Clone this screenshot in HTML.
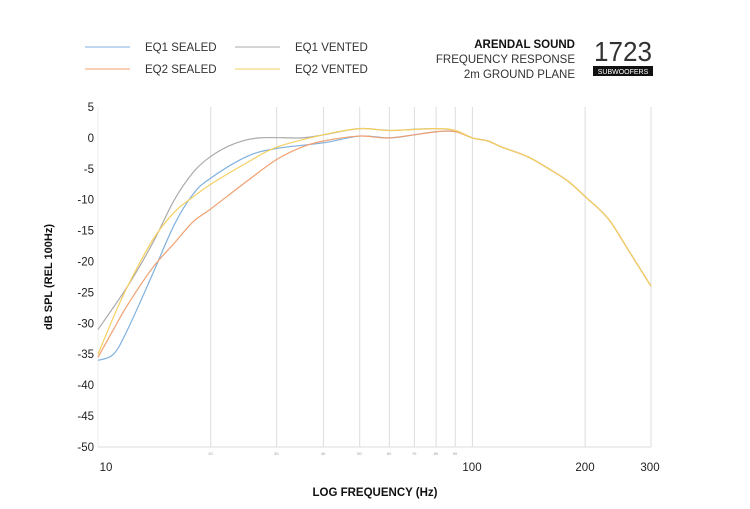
<!DOCTYPE html>
<html><head><meta charset="utf-8"><style>
body{margin:0;background:#fff;width:750px;height:504px;overflow:hidden;font-family:"Liberation Sans",sans-serif}
</style></head><body>
<svg id="s" width="750" height="504" xmlns="http://www.w3.org/2000/svg" font-family="Liberation Sans, sans-serif">
<line x1="85" y1="47" x2="130" y2="47" stroke="#7fb0dd"/>
<line x1="235" y1="47" x2="280" y2="47" stroke="#aaa"/>
<line x1="85" y1="69" x2="130" y2="69" stroke="#f0a070"/>
<line x1="235" y1="69" x2="280" y2="69" stroke="#f5d060"/>
<g font-size="11.5" fill="#333">
<text x="145" y="51">EQ1 SEALED</text><text x="295" y="51">EQ1 VENTED</text>
<text x="145" y="73">EQ2 SEALED</text><text x="295" y="73">EQ2 VENTED</text>
<text x="575" y="48" text-anchor="end" font-weight="bold" fill="#111">ARENDAL SOUND</text>
<text x="575" y="63" text-anchor="end">FREQUENCY RESPONSE</text>
<text x="575" y="78" text-anchor="end">2m GROUND PLANE</text>
</g>
<text x="594" y="61" font-size="28" fill="#333" textLength="58" lengthAdjust="spacingAndGlyphs">1723</text>
<rect x="593" y="66" width="60" height="10" fill="#111"/>
<text x="623" y="74" font-size="7" fill="#fff" text-anchor="middle">SUBWOOFERS</text>
<g id="grid" stroke="#ddd" stroke-width="1"></g>
<g id="ylab" font-size="11.5" fill="#222" text-anchor="end"></g>
<text x="52" y="277" font-size="11" font-weight="bold" fill="#111" text-anchor="middle" transform="rotate(-90 52 277)">dB SPL (REL 100Hz)</text>
<g font-size="11.5" fill="#222" text-anchor="middle">
<text x="106" y="471">10</text><text x="472" y="471">100</text><text x="585" y="471">200</text><text x="650" y="471">300</text>
</g>
<text x="375" y="496" font-size="11.5" font-weight="bold" fill="#111" text-anchor="middle">LOG FREQUENCY (Hz)</text>
<g id="curves" fill="none" stroke-width="1.2"></g>
</svg>
<script>
const X=f=>98+374.4*Math.log10(f/10), Y=d=>107+(5-d)*6.18;
const ns="http://www.w3.org/2000/svg";
const g=document.getElementById('grid'),yl=document.getElementById('ylab');
function el(p,t,a,txt){const e=document.createElementNS(ns,t);for(const k in a)e.setAttribute(k,a[k]);if(txt!==undefined)e.textContent=String(txt);p.appendChild(e);return e;}
[20,30,40,50,60,70,80,90,100,200,300].forEach(f=>{el(g,'line',{x1:X(f),x2:X(f),y1:107,y2:447});if(f<100)el(yl,'text',{x:X(f)+2,y:455,'font-size':4,fill:'#999'},f)});
el(g,'line',{x1:98,x2:651,y1:447,y2:447});el(g,'line',{x1:98,x2:98,y1:107,y2:447,stroke:'#eee'});
for(let d=5;d>=-50;d-=5)el(yl,'text',{x:94,y:Y(d)+4},d);
const tail=[[100,0],[110,-0.5],[120,-1.5],[140,-3],[160,-5],[180,-7],[200,-9.5],[230,-13],[260,-18],[300,-24]];
const S={
'#7fb0dd':[[10,-36],[11,-35],[12,-31],[14,-22],[16,-14],[18,-9],[20,-6.5],[25,-3],[30,-1.7],[40,-0.8],[50,0.3],[60,0],[70,0.5],[80,1],[90,1]],
'#aaa':[[10,-31],[12,-24],[14,-17],[16,-10],[18,-5.5],[20,-3],[23,-1],[27,0],[35,0],[40,0.5],[50,1.5],[60,1.2],[70,1.4],[80,1.5],[90,1.2]],
'#f0a070':[[10,-35.5],[11,-31],[12,-27],[14,-21],[16,-17],[18,-13.5],[20,-11.5],[25,-7],[30,-3.5],[35,-1.5],[40,-0.5],[50,0.3],[60,0],[80,1],[90,1]],
'#f5d060':[[10,-35],[11,-29],[12,-24],[14,-16.5],[16,-12],[18,-9.5],[20,-7.5],[25,-4],[30,-1.5],[40,0.5],[50,1.5],[60,1.2],[80,1.5],[90,1.2]]};
const c=document.getElementById('curves');
for(const col in S){const p=S[col].concat(tail).map(([f,d])=>[X(f),Y(d)]);
let d='M'+p[0][0]+','+p[0][1];
for(let i=0;i<p.length-1;i++){const p0=p[Math.max(0,i-1)],p1=p[i],p2=p[i+1],p3=p[Math.min(p.length-1,i+2)];
d+=' C'+(p1[0]+(p2[0]-p0[0])/6)+','+(p1[1]+(p2[1]-p0[1])/6)+' '+(p2[0]-(p3[0]-p1[0])/6)+','+(p2[1]-(p3[1]-p1[1])/6)+' '+p2[0]+','+p2[1];}
el(c,'path',{d:d,stroke:col});}
</script>
</body></html>
